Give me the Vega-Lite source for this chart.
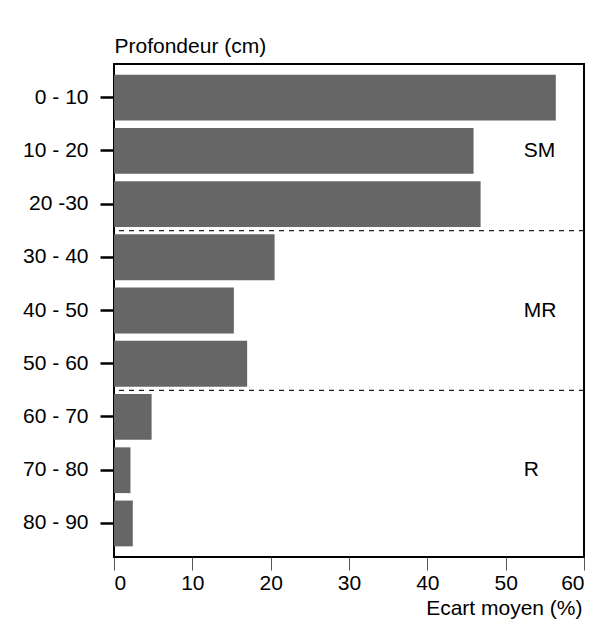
{
  "$schema": "https://vega.github.io/schema/vega-lite/v6.json",
  "autosize": "none",
  "padding": {"left": 114, "top": 64, "right": 23, "bottom": 73},
  "width": 470,
  "height": 493,
  "background": "white",
  "config": {
    "font": "Liberation Sans",
    "view": {"stroke": "black", "strokeWidth": 2}
  },
  "datasets": {
    "bars": [
      {"depth": "0 - 10", "ecart": 56.4},
      {"depth": "10 - 20", "ecart": 45.9},
      {"depth": "20 -30", "ecart": 46.8},
      {"depth": "30 - 40", "ecart": 20.5},
      {"depth": "40 - 50", "ecart": 15.3},
      {"depth": "50 - 60", "ecart": 17.0},
      {"depth": "60 - 70", "ecart": 4.8},
      {"depth": "70 - 80", "ecart": 2.1},
      {"depth": "80 - 90", "ecart": 2.4}
    ],
    "seps": [
      {"depth": "30 - 40"},
      {"depth": "60 - 70"}
    ],
    "zones": [
      {"depth": "10 - 20", "zone": "SM"},
      {"depth": "40 - 50", "zone": "MR"},
      {"depth": "70 - 80", "zone": "R"}
    ]
  },
  "layer": [
    {
      "data": {"name": "bars"},
      "mark": {"type": "bar", "color": "#666666"},
      "encoding": {
        "y": {
          "field": "depth",
          "type": "nominal",
          "sort": ["0 - 10", "10 - 20", "20 -30", "30 - 40", "40 - 50", "50 - 60", "60 - 70", "70 - 80", "80 - 90"],
          "scale": {"paddingInner": 0.14, "paddingOuter": 0.2},
          "axis": {
            "title": "Profondeur (cm)",
            "titleAngle": 0,
            "titleX": 0,
            "titleY": -12,
            "titleAlign": "left",
            "titleBaseline": "alphabetic",
            "titleFontSize": 21,
            "titleFontWeight": "normal",
            "titleColor": "black",
            "domain": false,
            "ticks": true,
            "tickSize": 14,
            "tickWidth": 2.5,
            "tickColor": "black",
            "labelPadding": 12,
            "labelFontSize": 21,
            "labelColor": "black"
          }
        },
        "x": {
          "field": "ecart",
          "type": "quantitative",
          "scale": {"domain": [0, 60], "nice": false},
          "axis": {
            "title": "Ecart moyen (%)",
            "values": [0, 10, 20, 30, 40, 50, 60],
            "grid": false,
            "domain": false,
            "tickSize": 13,
            "tickWidth": 1,
            "tickColor": "#555555",
            "labelBaseline": "alphabetic",
            "labelPadding": 19,
            "labelFontSize": 21,
            "labelColor": "black",
            "titleX": 468,
            "titleY": 57,
            "titleAlign": "right",
            "titleBaseline": "alphabetic",
            "titleFontSize": 21,
            "titleFontWeight": "normal",
            "titleColor": "black"
          }
        }
      }
    },
    {
      "data": {"name": "seps"},
      "mark": {"type": "rule", "color": "#222222", "strokeWidth": 1.3, "strokeDash": [5, 5]},
      "encoding": {
        "y": {"field": "depth", "type": "nominal", "bandPosition": -0.08}
      }
    },
    {
      "data": {"name": "zones"},
      "mark": {"type": "text", "align": "left", "baseline": "middle", "fontSize": 21, "color": "black"},
      "encoding": {
        "y": {"field": "depth", "type": "nominal"},
        "x": {"datum": 52.3, "type": "quantitative"},
        "text": {"field": "zone"}
      }
    }
  ]
}
